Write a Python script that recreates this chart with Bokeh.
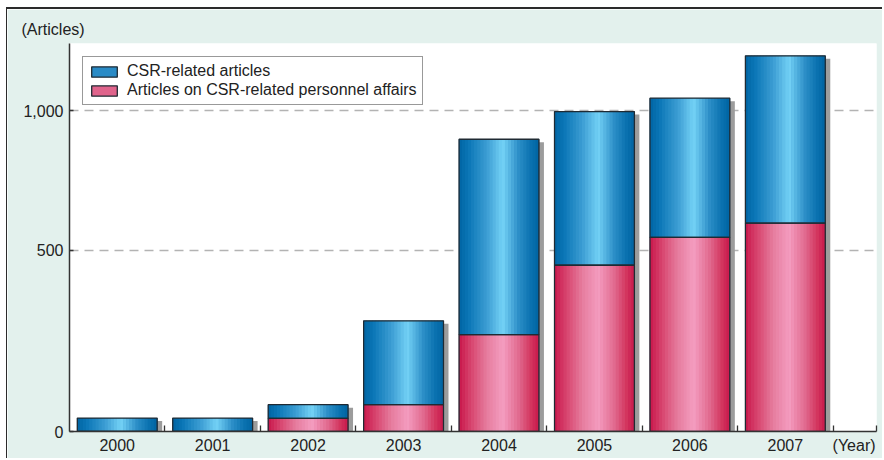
from bokeh.plotting import figure
from bokeh.models import (ColumnDataSource, Range1d, FixedTicker, CustomJSTransform,
                          Legend, LegendItem)
from bokeh.transform import dodge, transform
from bokeh.embed import file_html
from bokeh.resources import INLINE

# ---------------- data ----------------
years = ["2000", "2001", "2002", "2003", "2004", "2005", "2006", "2007"]
csr_articles = [37, 37, 74, 305, 897, 996, 1044, 1196]
personnel_articles = [0, 0, 36, 74, 267, 458, 545, 596]
y_tick_values = [0, 500, 1000]
y_tick_labels = ["0", "500", "1,000"]
y_unit_label = "(Articles)"
x_unit_label = "(Year)"
series_names = ["CSR-related articles", "Articles on CSR-related personnel affairs"]

# ---------------- axis scale (piecewise, as in the original) ----------------
BRK, LO, HI = 500.0, 181.5 / 500.0, 139.5 / 500.0

def seg(v):
    return v * LO if v <= BRK else BRK * LO + (v - BRK) * HI

JS_V = """
const out = new Float64Array(xs.length);
for (let i = 0; i < xs.length; i++) {
  const v = xs[i];
  out[i] = (v <= brk ? v*lo : brk*lo + (v - brk)*hi) - off;
}
return out;
"""
JS_S = "return (x <= brk ? x*lo : brk*lo + (x - brk)*hi) - off;"

def seg_tf(off=0.0):
    return CustomJSTransform(args=dict(brk=BRK, lo=LO, hi=HI, off=off), func=JS_S, v_func=JS_V)

T = seg_tf(0.0)
T_sh = seg_tf(3.0)

xs = list(range(len(years)))
src = ColumnDataSource(dict(x=xs, p=personnel_articles, t=csr_articles,
                            z=[0] * len(years)))

PX = 95.6                      # px per category slot
W = 80.0 / PX                  # bar width in data units
x_end = len(years) - 0.5 + 43.5 / PX
year_pos = len(years) - 1 + 0.72

FW, FH = 876, 451
p = figure(width=FW, height=FH, output_backend="svg", toolbar_location=None,
           x_range=Range1d(-0.5, x_end), y_range=Range1d(0, 388),
           min_border_left=62, min_border_right=7, min_border_top=34, min_border_bottom=29,
           title=y_unit_label)
p.margin = (7, 0, 0, 6)
p.styles = {"border-top": "2px solid #2b2b2b", "border-left": "1.5px solid #2b2b2b"}
p.border_fill_color = "#e3f1ed"
p.background_fill_color = "white"
p.outline_line_color = None

p.title.text_font = "Liberation Sans"
p.title.text_font_size = "16px"
p.title.text_font_style = "normal"
p.title.text_color = "#222222"
p.title.align = "left"
p.title.offset = -48
p.title.standoff = 12

# ---------------- gradient helper ----------------
def hex2rgb(h):
    h = h.lstrip("#")
    return tuple(int(h[i:i + 2], 16) for i in (0, 2, 4))

def grad(stops, t):
    for (t0, c0), (t1, c1) in zip(stops, stops[1:]):
        if t0 <= t <= t1:
            f = (t - t0) / (t1 - t0) if t1 > t0 else 0
            a, b = hex2rgb(c0), hex2rgb(c1)
            return "#%02x%02x%02x" % tuple(round(a[k] + (b[k] - a[k]) * f) for k in range(3))
    return stops[-1][1]

blue_stops = [(0, "#0064a3"), (0.12, "#0a76b6"), (0.35, "#3c9dd3"), (0.55, "#74d2f6"),
              (0.75, "#2c8ec7"), (0.9, "#0a72b0"), (1.0, "#0063a1")]
pink_stops = [(0, "#c8164b"), (0.15, "#d7446d"), (0.35, "#e67c9e"), (0.55, "#f49dc0"),
              (0.75, "#e16a8f"), (0.9, "#d3365f"), (1.0, "#c8184b")]

N = 26
sw = W / N

# ---------------- grid ----------------
p.xgrid.visible = False
p.ygrid.ticker = FixedTicker(ticks=[seg(v) for v in y_tick_values[1:]])
p.ygrid.grid_line_color = "#b3b3b3"
p.ygrid.grid_line_width = 1.3
p.ygrid.grid_line_dash = "9 6"

# ---------------- bars ----------------
# shadow
p.vbar(x=dodge("x", 5.0 / PX, range=p.x_range), width=W, bottom=0,
       top=transform("t", T_sh), source=src, fill_color="#9c9c9c", line_color=None)

pink_base = p.vbar(x="x", width=W, bottom=transform("z", T), top=transform("p", T),
                   source=src, fill_color="#e0648c", line_color=None)
blue_base = p.vbar(x="x", width=W, bottom=transform("p", T), top=transform("t", T),
                   source=src, fill_color="#2a8bc6", line_color=None)

for i in range(N):
    off = -W / 2 + (i + 0.5) * sw
    tt = (i + 0.5) / N
    p.vbar(x=dodge("x", off, range=p.x_range), width=sw * 1.15,
           bottom=transform("z", T), top=transform("p", T), source=src,
           fill_color=grad(pink_stops, tt), line_color=None)
    p.vbar(x=dodge("x", off, range=p.x_range), width=sw * 1.15,
           bottom=transform("p", T), top=transform("t", T), source=src,
           fill_color=grad(blue_stops, tt), line_color=None)

pink_out = p.vbar(x="x", width=W, bottom=transform("z", T), top=transform("p", T),
                  source=src, fill_color=None, line_color="#1f2a33", line_width=1.3)
blue_out = p.vbar(x="x", width=W, bottom=transform("p", T), top=transform("t", T),
                  source=src, fill_color=None, line_color="#1f2a33", line_width=1.3)

# ---------------- axes ----------------
xax = p.xaxis[0]
xax.ticker = FixedTicker(ticks=xs + [year_pos],
                         minor_ticks=[i + 0.5 for i in range(len(years))] + [x_end])
overrides = {i: y for i, y in zip(xs, years)}
overrides[year_pos] = x_unit_label
xax.major_label_overrides = overrides
xax.major_tick_in = 0
xax.major_tick_out = 0
xax.minor_tick_in = 6
xax.minor_tick_out = 0
xax.minor_tick_line_color = "#333333"
xax.minor_tick_line_width = 1.3
xax.axis_line_color = "#333333"
xax.axis_line_width = 1.5
xax.major_label_standoff = 5
xax.major_label_text_font = "Liberation Sans"
xax.major_label_text_font_size = "16px"
xax.major_label_text_color = "#222222"

yax = p.yaxis[0]
yax.ticker = FixedTicker(ticks=[seg(v) for v in y_tick_values], minor_ticks=[])
yax.major_label_overrides = {seg(v): lab for v, lab in zip(y_tick_values, y_tick_labels)}
yax.major_tick_in = 4
yax.major_tick_out = 0
yax.major_tick_line_color = "#333333"
yax.major_tick_line_width = 1.3
yax.axis_line_color = "#333333"
yax.axis_line_width = 1.5
yax.major_label_standoff = 6
yax.major_label_text_font = "Liberation Sans"
yax.major_label_text_font_size = "16px"
yax.major_label_text_color = "#222222"

# ---------------- legend ----------------
legend = Legend(items=[
    LegendItem(label=series_names[0], renderers=[blue_base, blue_out]),
    LegendItem(label=series_names[1], renderers=[pink_base, pink_out]),
], location="top_left")
legend.margin = 13
legend.padding = 5
legend.spacing = 1
legend.glyph_width = 32
legend.glyph_height = 13
legend.label_height = 13
legend.label_standoff = 7
legend.label_text_font = "Liberation Sans"
legend.label_text_font_size = "16px"
legend.label_text_color = "#222222"
legend.border_line_color = "#333333"
legend.border_line_width = 1.5
legend.background_fill_color = "white"
legend.background_fill_alpha = 1.0
p.add_layout(legend)

open("out.html", "w").write(file_html(p, INLINE))
